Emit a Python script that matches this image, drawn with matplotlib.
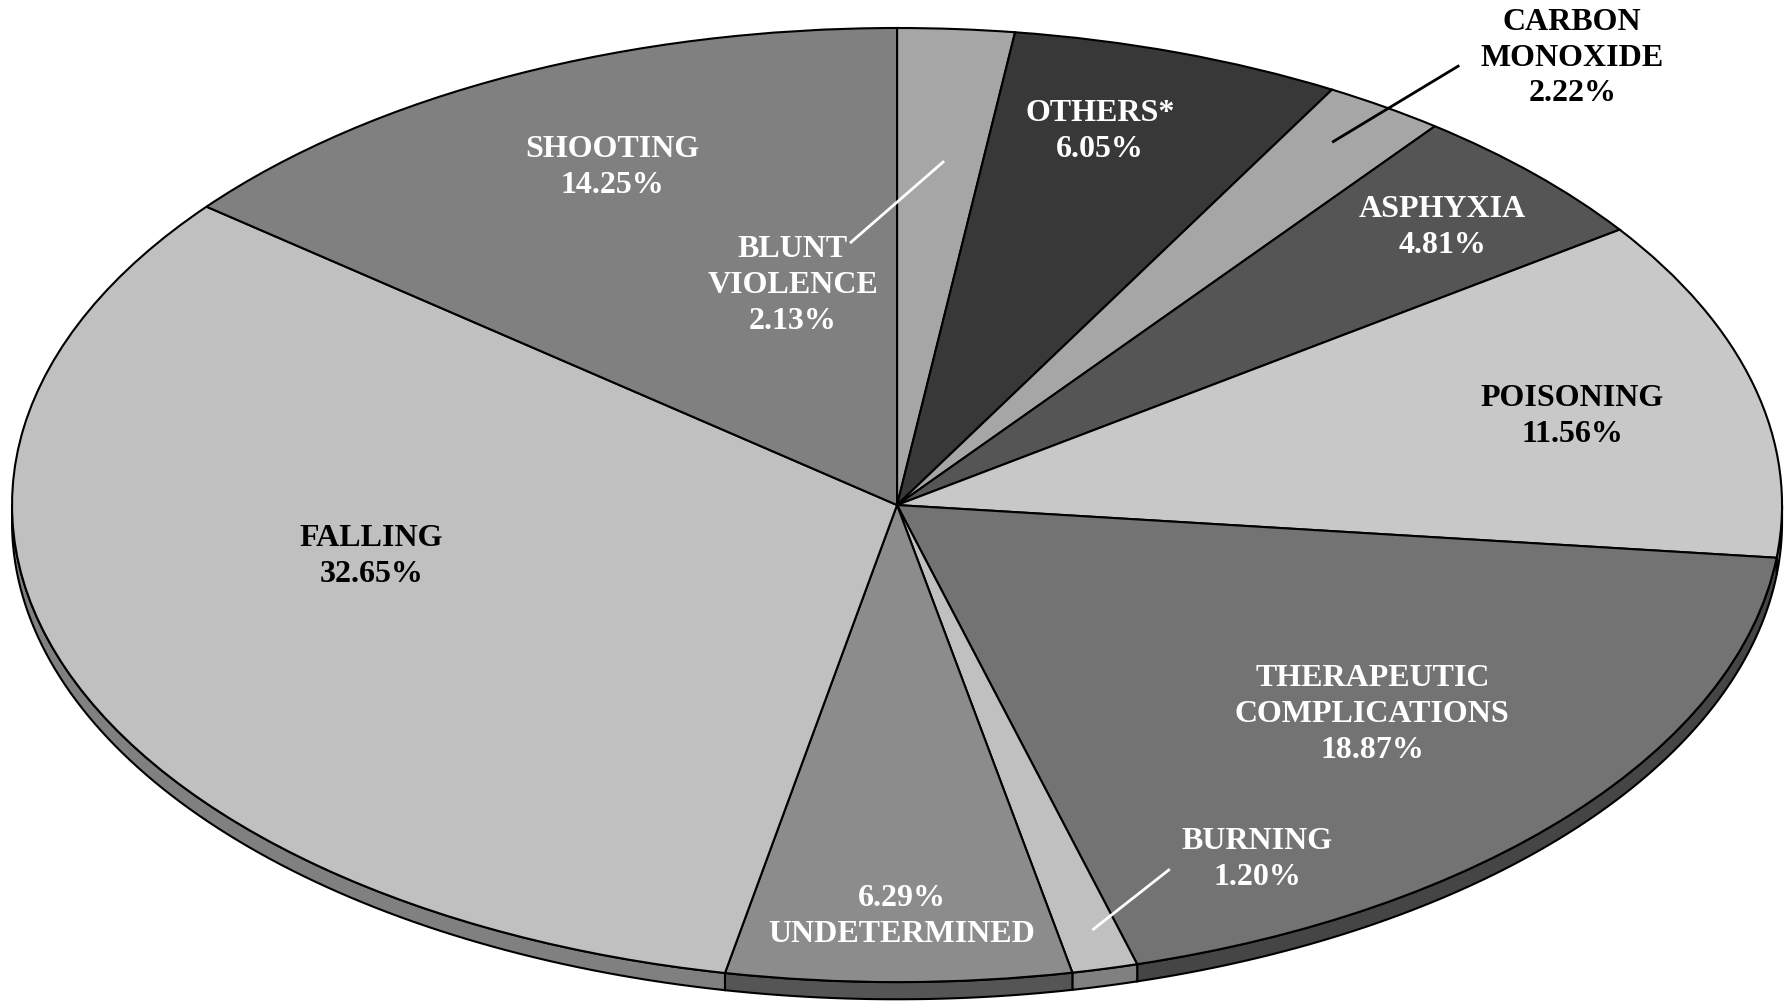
import matplotlib.pyplot as plt
import numpy as np

# Causes of death, clockwise from 12 o'clock
causes = ["BLUNT\nVIOLENCE", "OTHERS*", "CARBON\nMONOXIDE", "ASPHYXIA", "POISONING",
          "THERAPEUTIC\nCOMPLICATIONS", "BURNING", "UNDETERMINED", "FALLING", "SHOOTING"]
shares = [2.13, 6.05, 2.22, 4.81, 11.56, 18.87, 1.20, 6.29, 32.65, 14.25]

face_colors = ["#a6a6a6", "#383838", "#a6a6a6", "#555555", "#c8c8c8",
               "#737373", "#c0c0c0", "#8c8c8c", "#c0c0c0", "#808080"]
side_colors = ["#6e6e6e", "#222222", "#6e6e6e", "#363636", "#858585",
               "#454545", "#808080", "#555555", "#808080", "#555555"]
text_colors = ["white", "white", "black", "white", "black",
               "white", "white", "white", "black", "white"]

# label centres in pie units, plus optional leader lines
label_pos = [(-0.118, 0.460), (0.229, 0.783), (0.763, 0.937), (0.616, 0.582), (0.763, 0.185),
             (0.537, -0.439), (0.407, -0.743), (0.005, -0.863), (-0.594, -0.107), (-0.322, 0.707)]
leaders = {0: ((-0.052, 0.551), (0.052, 0.719)),
           2: ((0.634, 0.920), (0.493, 0.762)),
           6: ((0.307, -0.765), (0.222, -0.889))}

depth = 0.036  # thickness of the disc edge

fig = plt.figure(figsize=(17.9, 10.05), dpi=100)
ax = fig.add_axes([0, 0, 1, 1])

# side of the disc: only the front half (lower half of the ellipse) shows
total = sum(shares)
bounds = 90 - 360 * np.concatenate([[0], np.cumsum(shares)]) / total
for i in range(len(shares)):
    t_hi, t_lo = bounds[i], bounds[i + 1]
    # shift into the range where the front half is [-180, 0]
    for off in (0, 360, -360):
        a, b = max(t_lo + off, -180), min(t_hi + off, 0)
        if b <= a:
            continue
        t = np.radians(np.linspace(a, b, 80))
        xs = np.concatenate([np.cos(t), np.cos(t[::-1])])
        ys = np.concatenate([np.sin(t), np.sin(t[::-1]) - depth])
        ax.fill(xs, ys, facecolor=side_colors[i], edgecolor="black", linewidth=1.5, zorder=1)

ax.pie(shares, colors=face_colors, startangle=90, counterclock=False,
       wedgeprops=dict(edgecolor="black", linewidth=1.5, zorder=2))
ax.set_aspect("auto")
ax.set_xlim(-1.0136, 1.0090)
ax.set_ylim(-1.048, 1.0587)
ax.axis("off")

for i, (name, val) in enumerate(zip(causes, shares)):
    if name == "UNDETERMINED":
        txt = f"{val:.2f}%\n{name}"
    else:
        txt = f"{name}\n{val:.2f}%"
    x, y = label_pos[i]
    ax.text(x, y, txt, ha="center", va="center", fontsize=23, fontweight="bold",
            family="Liberation Serif", color=text_colors[i], linespacing=1.31, zorder=5)

for i, (p0, p1) in leaders.items():
    ax.plot([p0[0], p1[0]], [p0[1], p1[1]], color=text_colors[i], linewidth=2, zorder=4)

fig.savefig("out.png", dpi=100)
